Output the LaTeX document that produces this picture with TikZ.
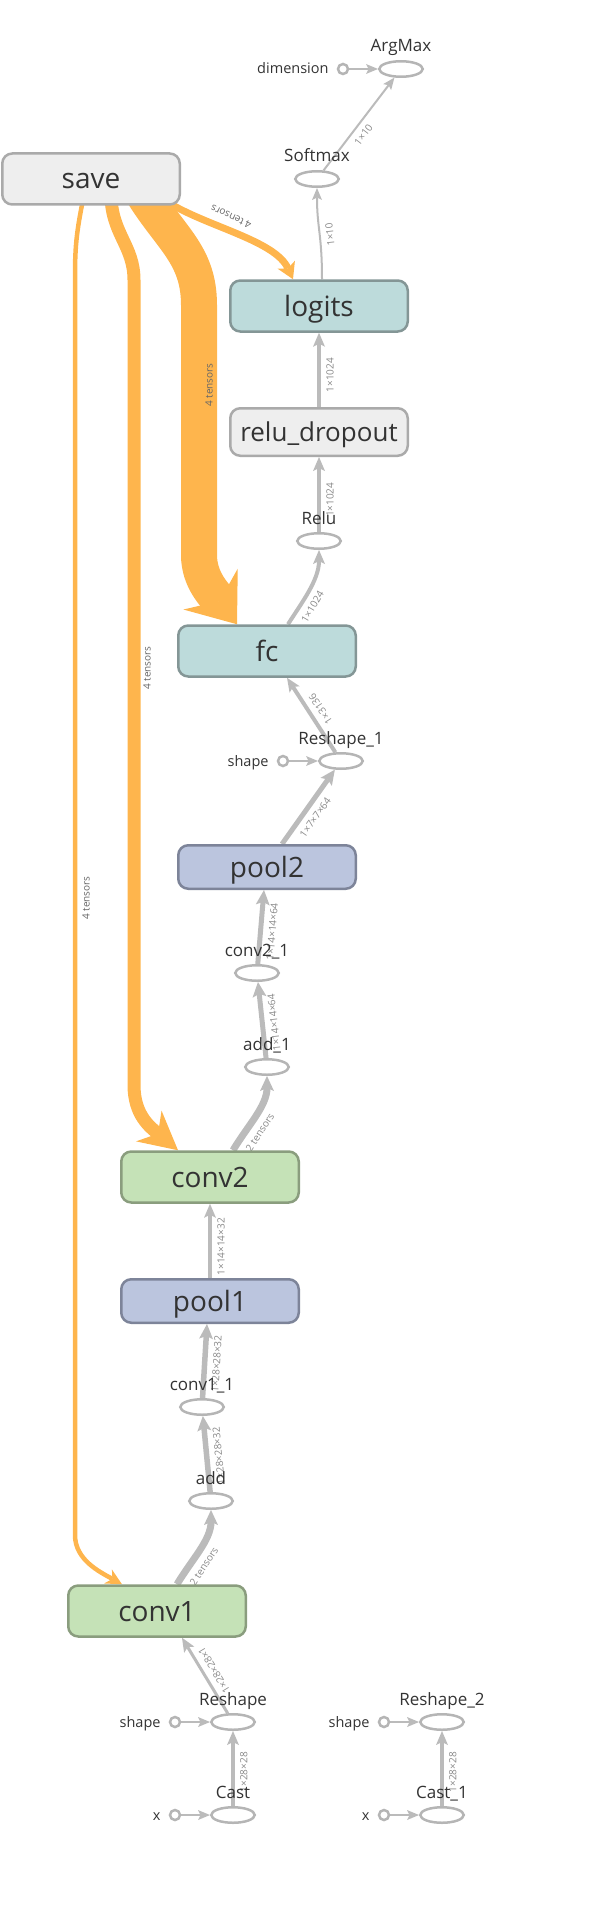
\documentclass[tikz,border=0pt]{standalone}
\usepackage{fontspec}
\setmainfont{Open Sans}
\usetikzlibrary{shapes.geometric,arrows.meta}
\definecolor{txt}{HTML}{333333}
\definecolor{saveFill}{HTML}{EEEEEE}
\definecolor{saveLine}{HTML}{AAAAAA}
\definecolor{tealFill}{HTML}{BDDBDB}
\definecolor{tealLine}{HTML}{849696}
\definecolor{poolFill}{HTML}{BBC5DE}
\definecolor{poolLine}{HTML}{7D8499}
\definecolor{convFill}{HTML}{C5E2B7}
\definecolor{convLine}{HTML}{8A9D7E}
\definecolor{opLine}{HTML}{B5B5B5}
\definecolor{edgeGrey}{HTML}{BBBBBB}
\definecolor{refOrange}{HTML}{FEB54D}
\definecolor{elabelC}{HTML}{888888}
\definecolor{olabelC}{HTML}{666666}
\pgfdeclarelayer{edgelayer}
\pgfsetlayers{edgelayer,main}
\begin{document}
\begin{tikzpicture}[x=1pt, y=-1pt, label distance=8pt,
  box/.style={rectangle, rounded corners=10pt, line width=2.5pt, minimum width=177.5pt, minimum height=51pt, inner sep=0pt, text=txt, font=\fontsize{28pt}{30pt}\selectfont, text height=20pt, text depth=0pt},
  graybox/.style={box, fill=saveFill, draw=saveLine},
  tealbox/.style={box, fill=tealFill, draw=tealLine},
  poolbox/.style={box, fill=poolFill, draw=poolLine, minimum height=43.5pt},
  convbox/.style={box, fill=convFill, draw=convLine},
  op/.style={ellipse, draw=opLine, line width=2.5pt, minimum width=43.5pt, minimum height=15.5pt, inner sep=0pt},
  oplabel/.style={anchor=base, inner sep=0pt, text=txt, font=\fontsize{17pt}{19pt}\selectfont},
  const/.style={circle, draw=opLine, line width=2.5pt, minimum size=10pt, inner sep=0pt},
  constlabel/.style={inner sep=0pt, text=txt, font=\fontsize{14.5pt}{16pt}\selectfont, text height=10pt, text depth=0pt},
  dataedge/.style={draw=edgeGrey},
  thinhead/.style={-{Stealth[length=12pt, width=10pt, inset=2.5pt, line width=0pt]}},
  medhead/.style={-{Stealth[length=14pt, width=12pt, inset=3pt, line width=0pt]}},
  bighead/.style={-{Stealth[length=15pt, width=14pt, inset=3pt, line width=0pt]}},
  refedge/.style={draw=refOrange},
  elabel/.style={font=\fontsize{10pt}{12pt}\selectfont, text=elabelC, inner sep=1.5pt, sloped, allow upside down, below=4pt},
  olabel/.style={font=\fontsize{10pt}{12pt}\selectfont, text=olabelC, inner sep=0pt},
]
\useasboundingbox (0,0) rectangle (608,1910);

% ---------- group nodes ----------
\node[graybox] (save) at (91,179) {save};
\node[tealbox] (logits) at (319,306) {logits};
\node[graybox, minimum height=47.5pt, font=\fontsize{26pt}{28pt}\selectfont, text height=18.5pt] (relu_dropout) at (319,432) {relu\_dropout};
\node[tealbox] (fc) at (267,651) {fc};
\node[poolbox] (pool2) at (267,867) {pool2};
\node[convbox] (conv2) at (210,1177) {conv2};
\node[poolbox] (pool1) at (210,1301) {pool1};
\node[convbox] (conv1) at (157,1611) {conv1};

% ---------- op nodes ----------
\node[op, label={[oplabel]90:ArgMax}] (ArgMax) at (401,69) {};
\node[op, label={[oplabel]90:Softmax}] (Softmax) at (317,179) {};
\node[op, label={[oplabel]90:Relu}] (Relu) at (319,541) {};
\node[op, label={[oplabel]90:Reshape\_1}] (Reshape_1) at (341,761) {};
\node[op, label={[oplabel]90:conv2\_1}] (conv2_1) at (257,973) {};
\node[op, label={[oplabel]90:add\_1}] (add_1) at (267,1067) {};
\node[op, label={[oplabel]90:conv1\_1}] (conv1_1) at (202,1407) {};
\node[op, label={[oplabel]90:add}] (add) at (211,1501) {};
\node[op, label={[oplabel]90:Reshape}] (Reshape) at (233,1722) {};
\node[op, label={[oplabel]90:Cast}] (Cast) at (233,1815) {};
\node[op, label={[oplabel]90:Reshape\_2}] (Reshape_2) at (442,1722) {};
\node[op, label={[oplabel]90:Cast\_1}] (Cast_1) at (442,1815) {};

% ---------- constants ----------
\node[const, label={[constlabel]180:dimension}] (dimension) at (343,69) {};
\node[const, label={[constlabel]180:shape}] (shapeA) at (283,761) {};
\node[const, label={[constlabel]180:shape}] (shapeB) at (175,1722) {};
\node[const, label={[constlabel]180:x}] (xB) at (175,1815) {};
\node[const, label={[constlabel]180:shape}] (shapeC) at (384,1722) {};
\node[const, label={[constlabel]180:x}] (xC) at (384,1815) {};

% ---------- reference (orange) edge labels ----------
\node[olabel, rotate=155] (tlog) at (231,217) {4 tensors};
\node[olabel, rotate=90] (tfc) at (209,385) {4 tensors};
\node[olabel, rotate=90] (tconv2) at (147,668) {4 tensors};
\node[olabel, rotate=90] (tconv1) at (86,898) {4 tensors};

\begin{pgfonlayer}{edgelayer}
\draw[refedge, line width=36pt, -{Stealth[length=44pt, width=68pt, inset=15pt, line width=0pt]}]
  ([xshift=52pt, yshift=12pt]save.south) .. controls +(28,45) and +(0,-50) .. (199,305)
  -- (199,555) .. controls (199,580) and (215,595) .. ([xshift=-30pt]fc.north);
\draw[refedge, line width=13pt, -{Stealth[length=38pt, width=40pt, inset=12pt, line width=0pt]}]
  ([xshift=20pt, yshift=12pt]save.south) .. controls +(0,40) and +(0,-35) .. (134,280)
  -- (134,1085) .. controls (134,1115) and (150,1127) .. ([xshift=-32pt]conv2.north);
\draw[refedge, line width=4.5pt, -{Stealth[length=16pt, width=16pt, inset=5pt, line width=0pt]}]
  ([xshift=-8pt, yshift=6pt]save.south) .. controls +(-6,30) and +(0,-30) .. (75,275)
  -- (75,1535) .. controls (75,1560) and (100,1572) .. ([xshift=-35pt]conv1.north);
\draw[refedge, line width=7pt, -{Stealth[length=16pt, width=19pt, inset=4pt, line width=0pt]}]
  ([xshift=76pt, yshift=4pt]save.south) .. controls +(40,25) and +(-18,-39) .. ([xshift=-26pt]logits.north);

% ---------- data (grey) edges ----------
\draw[dataedge, thinhead, line width=2pt] (Softmax) -- (ArgMax) node[elabel, pos=0.45] {1×10};
\draw[dataedge, thinhead, line width=2pt] ([xshift=3pt]logits.north) .. controls +(0,-45) and +(0,40) .. (Softmax.south) node[elabel, pos=0.45] {1×10};
\draw[dataedge, medhead, line width=3.5pt] (relu_dropout) -- (logits) node[elabel, pos=0.43] {1×1024};
\draw[dataedge, medhead, line width=3.5pt] (Relu) -- (relu_dropout) node[elabel, pos=0.43] {1×1024};
\draw[dataedge, medhead, line width=4pt] ([xshift=21pt]fc.north) .. controls +(14,-22) and +(0,30) .. (Relu.south) node[elabel, pos=0.35] {1×1024};
\draw[dataedge, medhead, line width=4pt] (Reshape_1) -- ([xshift=20pt]fc.south) node[elabel, pos=0.5] {1×3136};
\draw[dataedge, bighead, line width=5pt] ([xshift=15pt]pool2.north) -- (Reshape_1) node[elabel, pos=0.45] {1×7×7×64};
\draw[dataedge, bighead, line width=5pt] (conv2_1) -- ([xshift=-3pt]pool2.south) node[elabel, pos=0.45] {1×14×14×64};
\draw[dataedge, bighead, line width=5pt] (add_1) -- (conv2_1) node[elabel, pos=0.45] {1×14×14×64};
\draw[dataedge, bighead, line width=7pt] ([xshift=23pt]conv2.north) .. controls +(15,-25) and +(0,30) .. (add_1.south) node[elabel, pos=0.35] {2 tensors};
\draw[dataedge, medhead, line width=4pt] (pool1) -- (conv2) node[elabel, pos=0.42] {1×14×14×32};
\draw[dataedge, bighead, line width=5.5pt] (conv1_1) -- ([xshift=-3pt]pool1.south) node[elabel, pos=0.47] {1×28×28×32};
\draw[dataedge, bighead, line width=5.5pt] (add) -- (conv1_1) node[elabel, pos=0.46] {1×28×28×32};
\draw[dataedge, bighead, line width=7pt] ([xshift=20pt]conv1.north) .. controls +(15,-25) and +(0,30) .. (add.south) node[elabel, pos=0.35] {2 tensors};
\draw[dataedge, medhead, line width=3pt] (Reshape) -- ([xshift=25pt]conv1.south) node[elabel, pos=0.5] {1×28×28×1};
\draw[dataedge, medhead, line width=3.5pt] (Cast) -- (Reshape) node[elabel, pos=0.45] {1×28×28};
\draw[dataedge, medhead, line width=3.5pt] (Cast_1) -- (Reshape_2) node[elabel, pos=0.45] {1×28×28};

% ---------- constant edges ----------
\draw[dataedge, thinhead, line width=2pt] (dimension) -- (ArgMax);
\draw[dataedge, thinhead, line width=2pt] (shapeA) -- (Reshape_1);
\draw[dataedge, thinhead, line width=2pt] (shapeB) -- (Reshape);
\draw[dataedge, thinhead, line width=2pt] (xB) -- (Cast);
\draw[dataedge, thinhead, line width=2pt] (shapeC) -- (Reshape_2);
\draw[dataedge, thinhead, line width=2pt] (xC) -- (Cast_1);
\end{pgfonlayer}
\end{tikzpicture}
\end{document}
